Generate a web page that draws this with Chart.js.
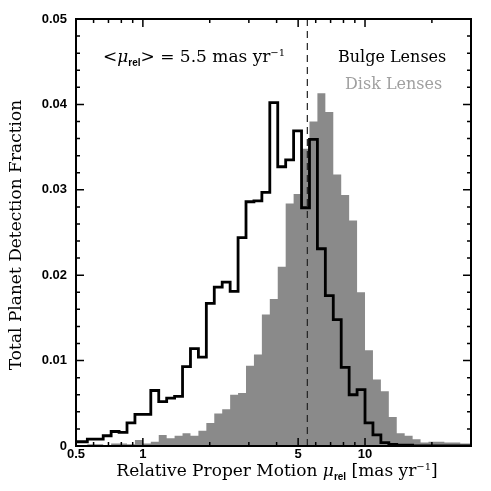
<!DOCTYPE html>
<html>
<head>
<meta charset="utf-8">
<script src="https://cdn.jsdelivr.net/npm/chart.js@4.4.1/dist/chart.umd.min.js"></script>
<style>
  html, body { margin: 0; padding: 0; background: #fff; }
  #wrap { width: 491px; height: 491px; }
</style>
</head>
<body>
<div id="wrap"><canvas id="chartMu" width="491" height="491"></canvas></div>
<script>
// log-spaced histogram: 28 bins per decade, first bin starts at 10^(-9/28)
const binsPerDecade = 28;
const firstBin = -9;

const diskLenses = [
  0, 0.0001, 0.0001, 0.0002, 0.0002, 0.0001, 0.0003, 0.0003, 0.0002,
  0.0007, 0.0003, 0.0005, 0.0013, 0.0009, 0.0012, 0.0015, 0.0012, 0.0018, 0.0027,
  0.0038, 0.0043, 0.0060, 0.0062, 0.0094, 0.0107, 0.0154, 0.0172, 0.0210, 0.0284,
  0.0295, 0.0348, 0.0380, 0.0413, 0.0391, 0.0318, 0.0294, 0.0264, 0.0180, 0.0112,
  0.0078, 0.0064, 0.0034, 0.0015, 0.0012, 0.0008, 0.0004, 0.0005, 0.0005, 0.0004,
  0.0004, 0.0003
];

const bulgeLenses = [
  0.0005, 0.0005, 0.0005, 0.0008, 0.0008, 0.0012, 0.0017, 0.0016, 0.0027,
  0.0037, 0.0037, 0.0065, 0.0052, 0.0056, 0.0058, 0.0093, 0.0114, 0.0104, 0.0167,
  0.0186, 0.0192, 0.0181, 0.0244, 0.0286, 0.0287, 0.0297, 0.0402, 0.0327, 0.0335,
  0.0369, 0.0279, 0.0359, 0.0231, 0.0176, 0.0148, 0.0092, 0.0060, 0.0066, 0.0027,
  0.0013, 0.0004, 0.0002, 0.0001, 0.0001, 0, 0, 0, 0, 0,
  0, 0
];

const meanMu = 5.5;
const xTicks = [0.5, 0.6, 0.7, 0.8, 0.9, 1, 2, 3, 4, 5, 6, 7, 8, 9, 10, 20, 30];
const xLabels = [0.5, 1, 5, 10];
const xMajor = [1, 5, 10];
const yTicks = [0, 0.01, 0.02, 0.03, 0.04, 0.05];
const yMinorStep = 0.002;

function binEdge(i) {
  return Math.pow(10, (firstBin + i) / binsPerDecade);
}

function stepPoints(values) {
  const pts = values.map((v, i) => ({ x: binEdge(i), y: v }));
  pts.push({ x: binEdge(values.length), y: values[values.length - 1] });
  return pts;
}

const serif = '"DejaVu Serif", serif';
const sans = '"Liberation Sans", Arial, sans-serif';

// draws a row of text pieces, each with its own font and vertical shift
function richText(ctx, parts, x, y, align) {
  let w = 0;
  parts.forEach(p => { ctx.font = p.font; w += ctx.measureText(p.t).width; });
  let cx = align === 'center' ? x - w / 2 : x;
  ctx.textBaseline = 'middle';
  ctx.textAlign = 'left';
  parts.forEach(p => {
    ctx.font = p.font;
    ctx.fillText(p.t, cx, y + (p.dy || 0));
    cx += ctx.measureText(p.t).width;
  });
}

const frameAndText = {
  id: 'frameAndText',
  afterDraw(chart) {
    const { ctx, chartArea: a, scales: { x, y } } = chart;
    ctx.save();
    ctx.strokeStyle = '#000';
    ctx.lineWidth = 1.5;
    ctx.beginPath();
    xTicks.forEach(v => {
      const px = x.getPixelForValue(v);
      if (px <= a.left + 1 || px >= a.right - 1) return;
      const len = xMajor.includes(v) ? 8 : 4;
      ctx.moveTo(px, a.bottom); ctx.lineTo(px, a.bottom - len);
      ctx.moveTo(px, a.top); ctx.lineTo(px, a.top + len);
    });
    for (let i = 1; i * yMinorStep < 0.05 - 1e-9; i++) {
      const py = y.getPixelForValue(i * yMinorStep);
      const len = i % 5 === 0 ? 8 : 4;
      ctx.moveTo(a.left, py); ctx.lineTo(a.left + len, py);
      ctx.moveTo(a.right, py); ctx.lineTo(a.right - len, py);
    }
    ctx.stroke();
    ctx.lineWidth = 2;
    ctx.strokeRect(a.left, a.top, a.right - a.left, a.bottom - a.top);

    ctx.fillStyle = '#000';
    const big = '17px ' + serif;
    const ital = 'italic 17px ' + serif;
    const mid = '16px ' + serif;
    const sub = 'bold 10px ' + sans;
    const sup = '10px ' + serif;

    richText(ctx, [
      { t: 'Relative Proper Motion ', font: big },
      { t: 'μ', font: ital },
      { t: 'rel', font: sub, dy: 5 },
      { t: ' [mas yr', font: big },
      { t: '−1', font: sup, dy: -5 },
      { t: ']', font: big }
    ], 277, 472, 'center');

    ctx.save();
    ctx.translate(17, 235);
    ctx.rotate(-Math.PI / 2);
    richText(ctx, [{ t: 'Total Planet Detection Fraction', font: big }], 0, 0, 'center');
    ctx.restore();

    richText(ctx, [
      { t: '<', font: big },
      { t: 'μ', font: ital },
      { t: 'rel', font: sub, dy: 5 },
      { t: '> = 5.5 mas yr', font: big },
      { t: '−1', font: sup, dy: -5 }
    ], 103, 58, 'left');

    richText(ctx, [{ t: 'Bulge Lenses', font: mid }], 338, 58, 'left');
    ctx.fillStyle = '#a0a0a0';
    richText(ctx, [{ t: 'Disk Lenses', font: mid }], 345, 85, 'left');
    ctx.restore();
  }
};

new Chart(document.getElementById('chartMu'), {
  type: 'line',
  data: {
    datasets: [
      {
        label: 'Bulge Lenses',
        data: stepPoints(bulgeLenses),
        stepped: 'after',
        borderColor: '#000',
        borderWidth: 2.8,
        borderJoinStyle: 'miter',
        pointRadius: 0,
        fill: false,
        order: 0
      },
      {
        label: 'mean',
        data: [{ x: meanMu, y: 0 }, { x: meanMu, y: 0.05 }],
        borderColor: '#222',
        borderWidth: 1.2,
        borderDash: [7, 5],
        pointRadius: 0,
        fill: false,
        order: 1
      },
      {
        label: 'Disk Lenses',
        data: stepPoints(diskLenses),
        stepped: 'after',
        borderWidth: 0,
        borderColor: 'rgba(0,0,0,0)',
        backgroundColor: '#8a8a8a',
        pointRadius: 0,
        fill: 'origin',
        order: 2
      }
    ]
  },
  options: {
    responsive: false,
    animation: false,
    devicePixelRatio: 1,
    layout: { padding: { top: 19, right: 20, left: 0, bottom: 0 } },
    scales: {
      x: {
        type: 'logarithmic',
        min: 0.5,
        max: 30,
        afterBuildTicks: s => { s.ticks = xTicks.map(v => ({ value: v })); },
        afterFit: s => { s.height = 45; },
        grid: { display: false, drawTicks: false },
        border: { display: false },
        ticks: {
          autoSkip: false,
          maxRotation: 0,
          padding: 1,
          color: '#000',
          font: { family: sans, size: 13, weight: 'bold' },
          callback: v => xLabels.includes(v) ? String(v) : ''
        }
      },
      y: {
        min: 0,
        max: 0.05,
        afterBuildTicks: s => { s.ticks = yTicks.map(v => ({ value: v })); },
        afterFit: s => { s.width = 76; },
        grid: { display: false, drawTicks: false },
        border: { display: false },
        ticks: {
          padding: 9,
          color: '#000',
          font: { family: sans, size: 13, weight: 'bold' },
          callback: v => v === 0 ? '0' : v.toFixed(2)
        }
      }
    },
    plugins: {
      legend: { display: false },
      tooltip: { enabled: false }
    }
  },
  plugins: [frameAndText]
});
</script>
</body>
</html>
